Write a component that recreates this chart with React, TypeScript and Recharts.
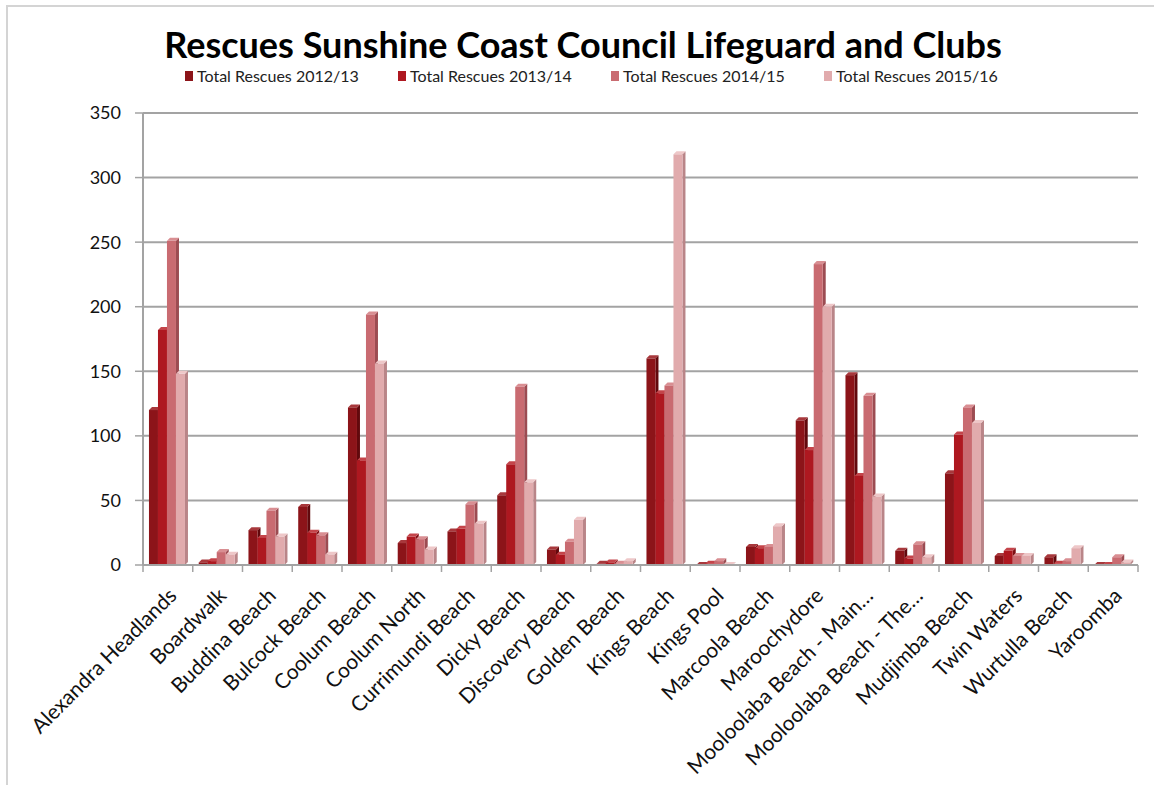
import { Bar, BarChart, CartesianGrid, XAxis, YAxis } from "recharts";

const beaches = [
  "Alexandra Headlands",
  "Boardwalk",
  "Buddina Beach",
  "Bulcock Beach",
  "Coolum Beach",
  "Coolum North",
  "Currimundi Beach",
  "Dicky Beach",
  "Discovery Beach",
  "Golden Beach",
  "Kings Beach",
  "Kings Pool",
  "Marcoola Beach",
  "Maroochydore",
  "Mooloolaba Beach - Main…",
  "Mooloolaba Beach - The…",
  "Mudjimba Beach",
  "Twin Waters",
  "Wurtulla Beach",
  "Yaroomba",
];

const rescues1213 = [120, 2, 27, 45, 122, 17, 26, 54, 12, 1, 160, 0, 14, 112, 147, 11, 71, 7, 6, 0];
const rescues1314 = [182, 3, 21, 25, 81, 22, 28, 78, 8, 2, 133, 1, 13, 89, 69, 5, 101, 11, 1, 0];
const rescues1415 = [251, 10, 42, 23, 194, 20, 47, 138, 18, 1, 139, 3, 14, 233, 131, 16, 122, 7, 3, 6];
const rescues1516 = [148, 8, 22, 8, 156, 12, 32, 64, 35, 3, 318, 0, 30, 200, 53, 6, 110, 7, 13, 2];

const yTicks = [0, 50, 100, 150, 200, 250, 300, 350];

const series = [
  { key: "r1213", name: "Total Rescues 2012/13", front: "#8c1419", side: "#62090d", top: "#a8383c" },
  { key: "r1314", name: "Total Rescues 2013/14", front: "#ae1820", side: "#7e0f14", top: "#c4444a" },
  { key: "r1415", name: "Total Rescues 2014/15", front: "#c96b71", side: "#9c4c52", top: "#d98e92" },
  { key: "r1516", name: "Total Rescues 2015/16", front: "#e1abad", side: "#b98588", top: "#eec7c8" },
];

const data = beaches.map((name, i) => ({
  name,
  r1213: rescues1213[i],
  r1314: rescues1314[i],
  r1415: rescues1415[i],
  r1516: rescues1516[i],
}));

const W = 1154;
const H = 785;
const PLOT_LEFT = 143;
const PLOT_RIGHT = 1138;
const PLOT_TOP = 113;
const PLOT_BOTTOM = 565;
const BAND = (PLOT_RIGHT - PLOT_LEFT) / beaches.length;
const FONT = "Lato, 'Open Sans', sans-serif";
const GRID = "#a3a3a3";

// fake Excel-style 3D bar: front face, darker right side, lighter top
function makeShape(front: string, side: string, top: string) {
  return (props: any) => {
    const { x, y, width, height } = props;
    if (height == null || width == null) return null;
    const d = 3;
    const h = Math.max(height, 0.5);
    return (
      <g>
        <polygon
          points={`${x + width},${y} ${x + width + d},${y - d} ${x + width + d},${y + h - d} ${x + width},${y + h}`}
          fill={side}
        />
        <polygon
          points={`${x},${y} ${x + d},${y - d} ${x + width + d},${y - d} ${x + width},${y}`}
          fill={top}
        />
        <rect x={x} y={y} width={width} height={h} fill={front} />
      </g>
    );
  };
}

function CategoryTick(props: any) {
  const { x, y, payload, index } = props;
  const last = index === beaches.length - 1;
  return (
    <g transform={`translate(${x},${y})`}>
      <line x1={-BAND / 2} x2={-BAND / 2} y1={0} y2={7} stroke={GRID} strokeWidth={1.5} />
      {last && <line x1={BAND / 2} x2={BAND / 2} y1={0} y2={7} stroke={GRID} strokeWidth={1.5} />}
      <text
        x={0}
        y={0}
        transform="translate(10,32) rotate(-45)"
        textAnchor="end"
        fontSize={21}
        fontFamily={FONT}
        fill="#111"
      >
        {payload.value}
      </text>
    </g>
  );
}

function ChartLegend() {
  return (
    <div
      style={{
        position: "absolute",
        top: 67,
        left: 185,
        display: "flex",
        fontFamily: FONT,
        fontSize: 16,
        lineHeight: "17px",
        color: "#222",
      }}
    >
      {series.map((s, i) => (
        <div key={s.key} style={{ display: "flex", alignItems: "center", width: i < 3 ? 213 : "auto" }}>
          <span style={{ display: "inline-block", width: 8, height: 10, background: s.front, marginRight: 4 }} />
          <span>{s.name}</span>
        </div>
      ))}
    </div>
  );
}

export default function App() {
  return (
    <div style={{ position: "fixed", left: 0, top: 0, width: W, height: H, background: "#fff", overflow: "hidden" }}>
      <div
        style={{
          position: "absolute",
          left: 6,
          top: 5,
          width: W,
          height: H,
          borderTop: "2px solid #d4d4d4",
          borderLeft: "2px solid #d4d4d4",
        }}
      />
      <div
        style={{
          position: "absolute",
          left: 0,
          top: 26,
          width: 1166,
          textAlign: "center",
          fontFamily: FONT,
          fontWeight: 700,
          fontSize: 36,
          color: "#000",
          lineHeight: "36px",
        }}
      >
        Rescues Sunshine Coast Council Lifeguard and Clubs
      </div>
      <ChartLegend />
      <div style={{ position: "absolute", left: 0, top: 0 }}>
        <BarChart
          width={W}
          height={H}
          data={data}
          margin={{ top: PLOT_TOP, right: W - PLOT_RIGHT, bottom: 0, left: 0 }}
          barCategoryGap="12%"
          barGap={0}
        >
          <CartesianGrid vertical={false} stroke={GRID} strokeWidth={2} />
          <XAxis
            dataKey="name"
            interval={0}
            tick={<CategoryTick />}
            tickLine={false}
            tickSize={0}
            tickMargin={0}
            axisLine={{ stroke: GRID, strokeWidth: 2 }}
            height={H - PLOT_BOTTOM}
          />
          <YAxis
            domain={[0, 350]}
            ticks={yTicks}
            interval={0}
            width={PLOT_LEFT}
            tickSize={8}
            tickMargin={14}
            tickLine={{ stroke: GRID, strokeWidth: 1.5 }}
            axisLine={{ stroke: GRID, strokeWidth: 2 }}
            tick={{ fill: "#111", fontSize: 18, fontFamily: FONT }}
          />
          {series.map((s) => (
            <Bar
              key={s.key}
              dataKey={s.key}
              name={s.name}
              fill={s.front}
              shape={makeShape(s.front, s.side, s.top)}
              isAnimationActive={false}
            />
          ))}
        </BarChart>
      </div>
    </div>
  );
}
